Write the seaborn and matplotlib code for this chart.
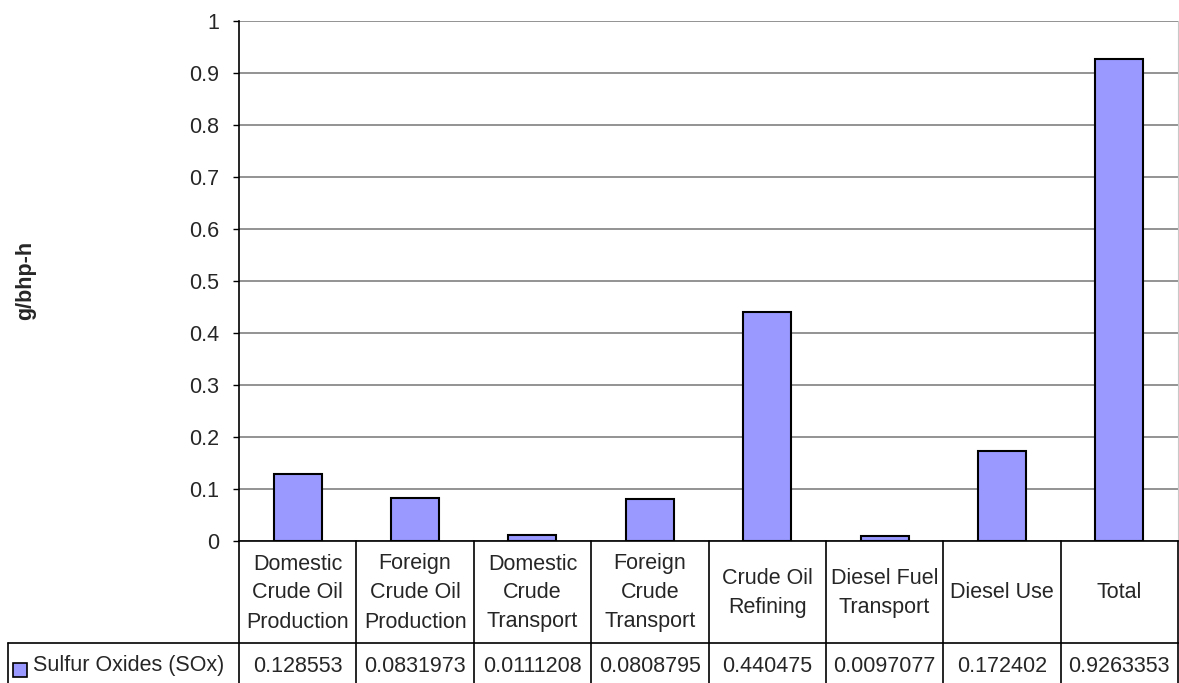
import pandas as pd
import numpy as np
import matplotlib
matplotlib.use("Agg")
import matplotlib.pyplot as plt
import matplotlib.transforms as mtransforms
from matplotlib.patches import Rectangle
from matplotlib.lines import Line2D
import seaborn as sns

# --- Data ---
categories = ["Domestic\nCrude Oil\nProduction", "Foreign\nCrude Oil\nProduction",
              "Domestic\nCrude\nTransport", "Foreign\nCrude\nTransport",
              "Crude Oil\nRefining", "Diesel Fuel\nTransport", "Diesel Use", "Total"]
sox_values = [0.128553, 0.0831973, 0.0111208, 0.0808795, 0.440475, 0.0097077, 0.172402, 0.9263353]
value_labels = ["0.128553", "0.0831973", "0.0111208", "0.0808795",
                "0.440475", "0.0097077", "0.172402", "0.9263353"]
series_name = "Sulfur Oxides (SOx)"
y_ticks = [0, 0.1, 0.2, 0.3, 0.4, 0.5, 0.6, 0.7, 0.8, 0.9, 1]
y_tick_labels = ["0", "0.1", "0.2", "0.3", "0.4", "0.5", "0.6", "0.7", "0.8", "0.9", "1"]

BAR_COLOR = "#9999FF"
FS = 15.5

sns.set_style("white")
plt.rcParams["font.family"] = ["Liberation Sans", "DejaVu Sans"]

df = pd.DataFrame({"stage": categories, "value": sox_values})

W, H = 1179, 683
fig = plt.figure(figsize=(W / 100, H / 100), dpi=100)
left, right, top, bottom = 239, 1178, 21, 541
ax = fig.add_axes([left / W, 1 - bottom / H, (right - left) / W, (bottom - top) / H])

sns.barplot(data=df, x="stage", y="value", color=BAR_COLOR, saturation=1,
            width=0.41, edgecolor="black", linewidth=1.5, ax=ax, zorder=3)

ax.set_ylim(0, 1)
ax.set_xlim(-0.5, len(categories) - 0.5)
ax.set_yticks(y_ticks)
ax.set_yticklabels(y_tick_labels, fontsize=FS)
ax.set_xticks([])
ax.set_xlabel("")
ax.set_ylabel("")
ax.yaxis.grid(True, color="#808080", linewidth=1.2, zorder=0)
ax.set_axisbelow(True)
ax.tick_params(axis="y", direction="out", length=4.5, width=1, color="black",
               pad=10, left=True)
for s in ["left", "bottom"]:
    ax.spines[s].set_color("black")
    ax.spines[s].set_linewidth(1.2)
ax.spines["top"].set_visible(False)
ax.spines["right"].set_color("#c8c8c8")

fig.text(26 / W, 1 - 280 / H, "g/bhp-h", rotation=90, fontsize=FS,
         fontweight="bold", ha="center", va="center")

# --- Data table below the chart ---
def fy(py):
    return 1 - py / H

trans = mtransforms.blended_transform_factory(ax.transData, fig.transFigure)
row_split = 643
for i, lab in enumerate(categories):
    fig.text(i, fy((bottom + row_split) / 2 + 1), lab, transform=trans,
             ha="center", va="center", fontsize=FS, linespacing=1.5)
    fig.text(i, fy(666), value_labels[i], transform=trans,
             ha="center", va="center", fontsize=FS)

# vertical borders between columns
for k in range(len(categories) + 1):
    xb = k - 0.5
    fig.add_artist(Line2D([xb, xb], [fy(bottom), fy(H + 5)], transform=trans,
                          color="black", linewidth=1.2, clip_on=False))
# horizontal line between rows, and legend cell
fig.add_artist(Line2D([8 / W, 1], [fy(row_split), fy(row_split)],
                      transform=fig.transFigure, color="black", linewidth=1.2))
fig.add_artist(Line2D([8 / W, 8 / W], [fy(row_split), 0],
                      transform=fig.transFigure, color="black", linewidth=1.2))
fig.add_artist(Rectangle((13 / W, fy(677)), 14 / W, 14 / H, transform=fig.transFigure,
                         facecolor=BAR_COLOR, edgecolor="black", linewidth=1.2))
fig.text(33 / W, fy(666), series_name, ha="left", va="center", fontsize=FS)

plt.savefig("out.png", dpi=100)
